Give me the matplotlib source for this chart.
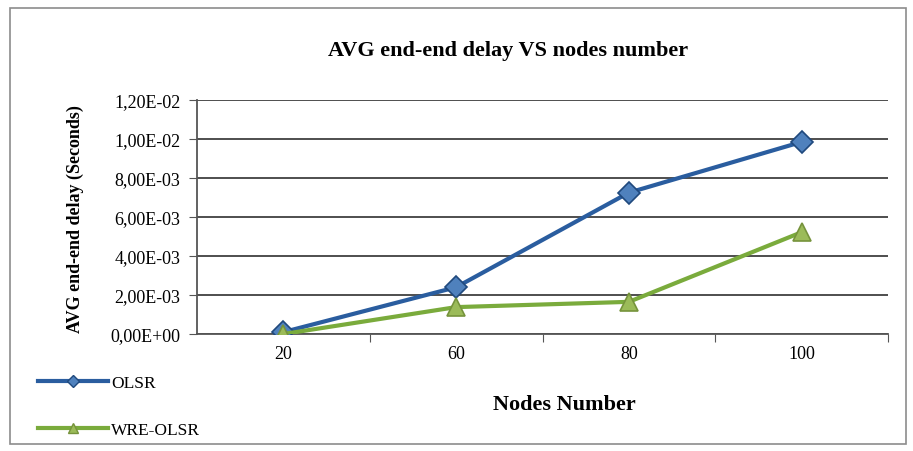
import matplotlib.pyplot as plt
from matplotlib.patches import Rectangle
from matplotlib.lines import Line2D

plt.rcParams['font.family'] = ['Liberation Serif', 'DejaVu Serif']

nodes = ["20", "60", "80", "100"]
olsr = [0.1e-3, 2.4e-3, 7.25e-3, 9.85e-3]
wre_olsr = [0.0, 1.38e-3, 1.65e-3, 5.22e-3]
yticks = [0, 2e-3, 4e-3, 6e-3, 8e-3, 10e-3, 12e-3]
ytick_labels = ["0,00E+00", "2,00E-03", "4,00E-03", "6,00E-03",
                "8,00E-03", "1,00E-02", "1,20E-02"]

fig = plt.figure(figsize=(9.13, 4.52), dpi=100)
# outer chart border
fig.patches.append(Rectangle((0.011, 0.015), 0.981, 0.965, transform=fig.transFigure,
                             fill=False, edgecolor='#8c8c8c', linewidth=1.2))

ax = fig.add_axes([0.2158, 0.2588, 0.7568, 0.5177])
x = [i + 0.5 for i in range(len(nodes))]

ax.plot(x, olsr, color='#2a5d9f', linewidth=3, marker='D', markersize=11,
        markerfacecolor='#4f81bd', markeredgecolor='#1f497d', markeredgewidth=1.2, zorder=3)
ax.plot(x, wre_olsr, color='#7aab3c', linewidth=3, marker='^', markersize=13,
        markerfacecolor='#9bbb59', markeredgecolor='#76933c', markeredgewidth=1.2, zorder=3)

ax.set_xlim(0, 4)
ax.set_ylim(0, 12e-3)
ax.set_yticks(yticks)
ax.set_yticklabels(ytick_labels, fontsize=13)
ax.set_xticks([1, 2, 3, 4])
ax.set_xticklabels([])
ax.set_xticks(x, minor=True)
ax.set_xticklabels(nodes, minor=True, fontsize=13)
ax.tick_params(axis='x', which='minor', length=0, pad=8)
ax.tick_params(axis='x', which='major', length=6, color='#555555', direction='out')
ax.tick_params(axis='y', length=6, color='#555555', direction='out', pad=6)

ax.grid(axis='y', color='#404040', linewidth=1.3)
ax.set_axisbelow(True)
for s in ['top', 'right']:
    ax.spines[s].set_visible(False)
for s in ['left', 'bottom']:
    ax.spines[s].set_color('#555555')
    ax.spines[s].set_linewidth(1.3)

fig.text(0.557, 0.888, "AVG end-end delay VS nodes number", ha='center', va='center',
         fontsize=16, fontweight='bold')
fig.text(0.618, 0.103, "Nodes Number", ha='center', va='center', fontsize=16, fontweight='bold')
fig.text(0.083, 0.515, "AVG end-end delay (Seconds)", ha='center', va='center',
         rotation=90, fontsize=13, fontweight='bold')

handles = [
    Line2D([], [], color='#2a5d9f', linewidth=3, marker='D', markersize=6,
           markerfacecolor='#4f81bd', markeredgecolor='#1f497d'),
    Line2D([], [], color='#7aab3c', linewidth=3, marker='^', markersize=7,
           markerfacecolor='#9bbb59', markeredgecolor='#76933c'),
]
fig.legend(handles, ["OLSR", "WRE-OLSR"], loc='lower left', bbox_to_anchor=(0.025, -0.005),
           frameon=False, fontsize=12.5, handlelength=4, labelspacing=1.75, handletextpad=0.2)

fig.savefig("out.png", dpi=100)
